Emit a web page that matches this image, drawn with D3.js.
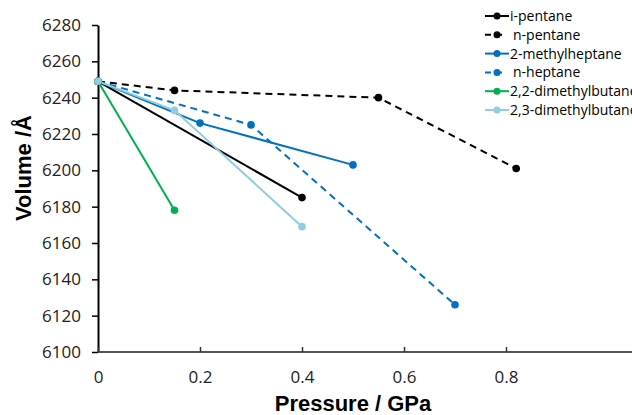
<!DOCTYPE html>
<html>
<head>
<meta charset="utf-8">
<script src="https://cdn.jsdelivr.net/npm/d3@7"></script>
<style>
  body { margin: 0; background: #fff; }
  svg { display: block; }
</style>
</head>
<body>
<div id="chart"></div>
<script>
// data
const seriesNames = ["i-pentane", "n-pentane", "2-methylheptane", "n-heptane", "2,2-dimethylbutane", "2,3-dimethylbutane"];
const seriesColors = ["#000000", "#000000", "#0070c0", "#0070c0", "#00b050", "#92cddc"];
const seriesDashed = [false, true, false, true, false, false];
const iPentane = [[0, 6249], [0.4, 6185]];
const nPentane = [[0, 6249], [0.15, 6244], [0.55, 6240], [0.82, 6201]];
const methylheptane = [[0, 6249], [0.2, 6226], [0.5, 6203]];
const nHeptane = [[0, 6249], [0.3, 6225], [0.7, 6126]];
const dimethylbutane22 = [[0, 6249], [0.15, 6178]];
const dimethylbutane23 = [[0, 6249], [0.15, 6233], [0.4, 6169]];
const xTicks = [0, 0.2, 0.4, 0.6, 0.8];
const yTicks = [6100, 6120, 6140, 6160, 6180, 6200, 6220, 6240, 6260, 6280];

const seriesData = [iPentane, nPentane, methylheptane, nHeptane, dimethylbutane22, dimethylbutane23];

const W = 632, H = 415;
const svg = d3.select("#chart").append("svg").attr("width", W).attr("height", H);

const x = d3.scaleLinear().domain([0, 1]).range([98, 608]);
const y = d3.scaleLinear().domain([6100, 6280]).range([352, 25]);

const font = "'Open Sans', 'Liberation Sans', sans-serif";

// axes
const yAxis = svg.append("g").attr("transform", `translate(${x(0)},0)`)
    .call(d3.axisLeft(y).tickValues(yTicks).tickFormat(d3.format("d")).tickSize(6).tickSizeOuter(0));
yAxis.select(".domain").attr("stroke", "#000").attr("stroke-width", 2);
yAxis.selectAll(".tick line").attr("stroke", "#000").attr("stroke-width", 1.5).attr("x2", -6);
yAxis.selectAll(".tick text").attr("x", -17).attr("font-size", 17).attr("font-family", font).attr("fill", "#222");

const xAxis = svg.append("g").attr("transform", `translate(0,${y(6100)})`)
    .call(d3.axisBottom(x).tickValues(xTicks).tickFormat(d => d === 0 ? "0" : d3.format(".1f")(d)).tickSize(-6).tickSizeOuter(0));
xAxis.select(".domain").attr("stroke", "#555").attr("stroke-width", 2).attr("d", `M${x(0)},0H${W}`);
xAxis.selectAll(".tick line").attr("stroke", "#333").attr("stroke-width", 1.5).attr("y2", -5).attr("y1", 0);
xAxis.selectAll(".tick text").attr("y", 19).attr("font-size", 17).attr("font-family", font).attr("fill", "#222");

// axis titles
svg.append("text").attr("x", 353).attr("y", 411).attr("text-anchor", "middle")
    .attr("font-family", "'Liberation Sans', Arial, sans-serif").attr("font-weight", "bold").attr("font-size", 22)
    .text("Pressure / GPa");
svg.append("text").attr("transform", "translate(31,168) rotate(-90)").attr("text-anchor", "middle")
    .attr("font-family", "'Liberation Sans', Arial, sans-serif").attr("font-weight", "bold").attr("font-size", 22)
    .text("Volume /Å");

// lines and markers
const line = d3.line().x(d => x(d[0])).y(d => y(d[1]));
seriesData.forEach((data, i) => {
    svg.append("path").datum(data)
        .attr("d", line)
        .attr("fill", "none")
        .attr("stroke", seriesColors[i])
        .attr("stroke-width", 2)
        .attr("stroke-dasharray", seriesDashed[i] ? "7,5" : null);
});
seriesData.forEach((data, i) => {
    svg.selectAll(null).data(data).enter().append("circle")
        .attr("cx", d => x(d[0])).attr("cy", d => y(d[1])).attr("r", 3.8)
        .attr("fill", seriesColors[i]);
});

// legend
const legend = svg.append("g");
seriesNames.forEach((name, i) => {
    const ly = 16 + i * 18.8;
    legend.append("line").attr("x1", 485).attr("x2", seriesDashed[i] ? 505 : 509).attr("y1", ly).attr("y2", ly)
        .attr("stroke", seriesColors[i]).attr("stroke-width", 2)
        .attr("stroke-dasharray", seriesDashed[i] ? "6,5" : null);
    legend.append("circle").attr("cx", 497).attr("cy", ly).attr("r", 3.5).attr("fill", seriesColors[i]);
    legend.append("text").attr("x", seriesDashed[i] ? 513 : 510).attr("y", ly + 5)
        .attr("font-family", font).attr("font-size", 14).attr("fill", "#000").text(name);
});
</script>
</body>
</html>
